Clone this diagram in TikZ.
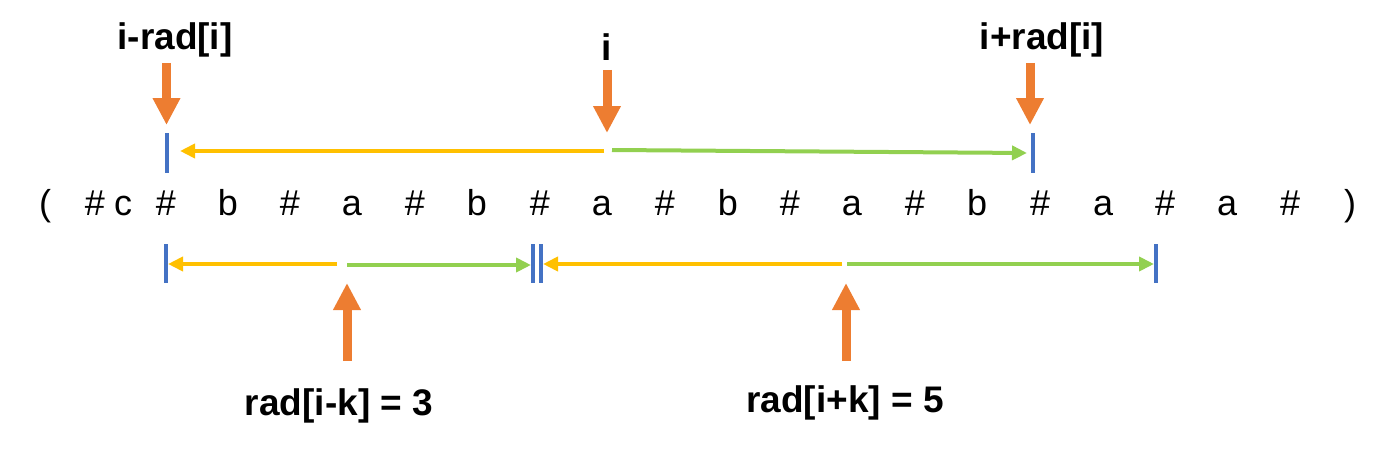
\documentclass[tikz,border=0pt]{standalone}
\usepackage{fontspec}
\setmainfont{Liberation Sans}
\usetikzlibrary{arrows.meta}
\definecolor{orng}{HTML}{ED7D31}
\definecolor{yell}{HTML}{FFC000}
\definecolor{grn}{HTML}{92D050}
\definecolor{blu}{HTML}{4472C4}
\tikzset{
  chr/.style={anchor=base, inner sep=0pt, font=\fontsize{36}{40}\selectfont},
  lbl/.style={anchor=base, inner sep=0pt, font=\fontsize{37}{42}\selectfont\bfseries},
  bigarrow/.style={draw=orng, line width=9pt, -{Triangle[width=26pt,length=27pt]}, orng},
  tick/.style={draw=blu, line width=4pt},
  leftpart/.style={draw=yell, line width=4pt, -{Triangle[width=14pt,length=15pt]}, yell},
  rightpart/.style={draw=grn, line width=4pt, -{Triangle[width=14pt,length=15pt]}, grn}
}
\begin{document}
\begin{tikzpicture}[x=1pt,y=-1pt]
\useasboundingbox (0,0) rectangle (1379,452);
% character row
\foreach \x/\t [count=\n] in {45/{(},95/\#,123/c,166/\#,228/b,290/\#,352/a,415/\#,477/b,540/\#,602/a,665/\#,728/b,790/\#,852/a,915/\#,977/b,1040/\#,1103/a,1165/\#,1227/a,1290/\#,1350/{)}}
  \node[chr] (ch\n) at (\x,215) {\t};
% labels
\node[lbl] (lL) at (175,50) {i-rad[i]};
\node[lbl] (lM) at (607,60) {i};
\node[lbl] (lR) at (1042,50) {i+rad[i]};
\node[lbl] (bL) at (339,415) {rad[i-k] = 3};
\node[lbl] (bR) at (845,412) {rad[i+k] = 5};
% coordinates
\coordinate (aL1) at (166.5,63);  \coordinate (aL2) at (166.5,125);
\coordinate (aM1) at (607,70);    \coordinate (aM2) at (607,133);
\coordinate (aR1) at (1030,63);   \coordinate (aR2) at (1030,125);
\coordinate (bL1) at (347,361);   \coordinate (bL2) at (347,283);
\coordinate (bR1) at (846,361);   \coordinate (bR2) at (846,283);
% ticks
\coordinate (t1a) at (166.5,133); \coordinate (t1b) at (166.5,173);
\coordinate (t2a) at (1033,133);  \coordinate (t2b) at (1033,173);
\coordinate (t3a) at (166,244);   \coordinate (t3b) at (166,283);
\coordinate (t4a) at (533,244);   \coordinate (t4b) at (533,283);
\coordinate (t5a) at (541,244);   \coordinate (t5b) at (541,283);
\coordinate (t6a) at (1156,244);  \coordinate (t6b) at (1156,283);
\draw[tick] (t1a) -- (t1b);
\draw[tick] (t2a) -- (t2b);
\draw[tick] (t3a) -- (t3b);
\draw[tick] (t4a) -- (t4b);
\draw[tick] (t5a) -- (t5b);
\draw[tick] (t6a) -- (t6b);
% big orange arrows
\draw[bigarrow] (aL1) -- (aL2);
\draw[bigarrow] (aM1) -- (aM2);
\draw[bigarrow] (aR1) -- (aR2);
\draw[bigarrow] (bL1) -- (bL2);
\draw[bigarrow] (bR1) -- (bR2);
% span arrows
\coordinate (s1a) at (604,151);  \coordinate (s1b) at (180,151);
\coordinate (s2a) at (612,150);  \coordinate (s2b) at (1027,153);
\coordinate (s3a) at (337,264);  \coordinate (s3b) at (168,264);
\coordinate (s4a) at (347,265);  \coordinate (s4b) at (531,265);
\coordinate (s5a) at (842,264);  \coordinate (s5b) at (543,264);
\coordinate (s6a) at (847,264);  \coordinate (s6b) at (1154,264);
\draw[leftpart] (s1a) -- (s1b);
\draw[rightpart] (s2a) -- (s2b);
\draw[leftpart] (s3a) -- (s3b);
\draw[rightpart] (s4a) -- (s4b);
\draw[leftpart] (s5a) -- (s5b);
\draw[rightpart] (s6a) -- (s6b);
\end{tikzpicture}
\end{document}
